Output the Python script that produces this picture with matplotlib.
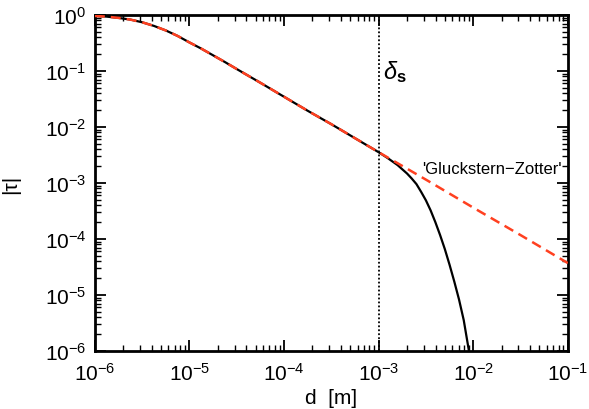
import matplotlib
matplotlib.use('Agg')
import matplotlib.pyplot as plt
import numpy as np
from matplotlib.ticker import FuncFormatter, LogLocator, NullFormatter

plt.rcParams['font.family'] = ['Liberation Sans', 'DejaVu Sans']
plt.rcParams['mathtext.fontset'] = 'custom'
plt.rcParams['mathtext.rm'] = 'Liberation Sans'
plt.rcParams['mathtext.it'] = 'Liberation Sans:italic'
plt.rcParams['mathtext.bf'] = 'Liberation Sans:bold'

# full solution |tau| vs d (log10 values)
log_d_full = [-6.0, -5.875, -5.75, -5.625, -5.5, -5.375, -5.25, -5.125, -5.0,
              -4.875, -4.75, -4.625, -4.5, -4.25, -4.0, -3.75, -3.5, -3.25,
              -3.0, -2.9, -2.8, -2.7, -2.65, -2.6, -2.55, -2.5, -2.45, -2.4,
              -2.35, -2.3, -2.25, -2.2, -2.15, -2.1, -2.05, -2.04]
log_t_full = [-0.017, -0.029, -0.052, -0.082, -0.13, -0.195, -0.276, -0.374, -0.49,
              -0.60, -0.72, -0.84, -0.965, -1.21, -1.46, -1.71, -1.95, -2.20,
              -2.45, -2.56, -2.68, -2.83, -2.92, -3.02, -3.16, -3.31, -3.49, -3.70,
              -3.93, -4.18, -4.46, -4.76, -5.08, -5.45, -5.95, -6.05]

# 'Gluckstern-Zotter' approximation
log_d_gz = [-6.0, -5.875, -5.75, -5.625, -5.5, -5.375, -5.25, -5.125, -5.0,
            -4.875, -4.75, -4.625, -4.5, -4.25, -4.0, -3.75, -3.5, -3.25,
            -3.0, -2.5, -2.0, -1.5, -1.0]
log_t_gz = [-0.017, -0.029, -0.052, -0.082, -0.13, -0.195, -0.276, -0.374, -0.49,
            -0.60, -0.72, -0.84, -0.965, -1.21, -1.46, -1.71, -1.95, -2.20,
            -2.45, -2.94, -3.44, -3.93, -4.43]

delta_s = 1e-3

d_full = 10 ** np.array(log_d_full)
t_full = 10 ** np.array(log_t_full)
d_gz = 10 ** np.array(log_d_gz)
t_gz = 10 ** np.array(log_t_gz)

fig = plt.figure(figsize=(5.89, 4.10), dpi=100)
ax = fig.add_axes([0.161, 0.1415, 0.803, 0.8195])

ax.plot(d_full, t_full, color='black', lw=1.6, zorder=2)
ax.plot(d_gz, t_gz, color='#ff4020', lw=1.8, dashes=(4, 2.4), zorder=3)
ax.axvline(delta_s, color='black', lw=1.3, ls=(0, (1, 1.2)), zorder=1)

ax.set_xscale('log')
ax.set_yscale('log')
ax.set_xlim(1e-6, 1e-1)
ax.set_ylim(1e-6, 1e0)

fmt = FuncFormatter(lambda v, p: r'$\mathregular{10^{%d}}$' % round(np.log10(v)))
ax.xaxis.set_major_formatter(fmt)
ax.yaxis.set_major_formatter(fmt)
ax.xaxis.set_major_locator(LogLocator(base=10, numticks=10))
ax.yaxis.set_major_locator(LogLocator(base=10, numticks=10))
ax.xaxis.set_minor_locator(LogLocator(base=10, subs=np.arange(2, 10), numticks=20))
ax.yaxis.set_minor_locator(LogLocator(base=10, subs=np.arange(2, 10), numticks=20))
ax.xaxis.set_minor_formatter(NullFormatter())
ax.yaxis.set_minor_formatter(NullFormatter())

ax.tick_params(which='both', direction='in', top=True, right=True, labelsize=15)
ax.tick_params(which='major', length=8, width=1.3)
ax.tick_params(which='minor', length=4, width=1.0)
ax.tick_params(axis='x', pad=8)
ax.tick_params(axis='y', pad=6)
for s in ax.spines.values():
    s.set_linewidth(2.0)

ax.set_xlabel('d  [m]', fontsize=15, labelpad=3)
ax.set_ylabel('|τ|', fontsize=15, labelpad=18)

ax.text(1.12e-3, 0.1, r'$\delta_{\mathbf{s}}$', fontsize=17, ha='left', va='center')
ax.text(0.087, 1.8e-3, "'Gluckstern\u2212Zotter'", fontsize=12, ha='right', va='center')

fig.savefig('out.png', dpi=100)
